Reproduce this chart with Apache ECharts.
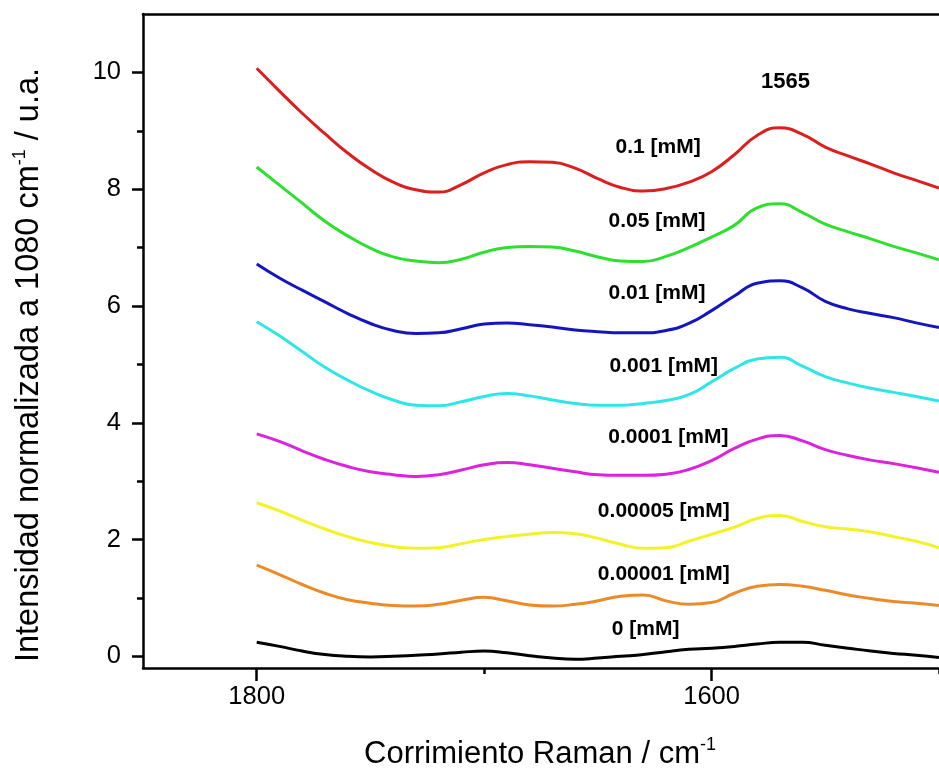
<!DOCTYPE html>
<html>
<head>
<meta charset="utf-8">
<script src="https://cdn.jsdelivr.net/npm/echarts@6/dist/echarts.min.js"></script>
<style>
html,body{margin:0;padding:0;background:#fff;}
#chart{width:939px;height:768px;}
</style>
</head>
<body>
<div id="chart"></div>
<script>
const wavenumbers = [1800,1790,1780,1770,1760,1750,1740,1730,1720,1710,1700,1690,1680,1670,1660,1650,1640,1630,1620,1610,1600,1590,1580,1570,1560,1550,1540,1530,1520,1510,1500];

const c0_1 = [10.07,9.68,9.30,8.95,8.62,8.34,8.12,7.99,7.95,8.08,8.28,8.42,8.47,8.46,8.36,8.18,8.03,7.97,8.01,8.12,8.30,8.59,8.92,9.05,8.94,8.72,8.57,8.43,8.28,8.15,8.02];
const c0_05 = [8.38,8.07,7.76,7.45,7.20,6.99,6.84,6.77,6.74,6.80,6.92,7.00,7.02,7.01,6.94,6.84,6.77,6.76,6.85,7.00,7.18,7.38,7.68,7.75,7.60,7.40,7.27,7.15,7.02,6.91,6.79];
const c0_01 = [6.72,6.48,6.27,6.07,5.87,5.70,5.58,5.53,5.54,5.61,5.69,5.71,5.68,5.64,5.59,5.56,5.54,5.54,5.58,5.70,5.92,6.17,6.39,6.43,6.31,6.08,5.95,5.87,5.80,5.71,5.63];
const c0_001 = [5.73,5.49,5.22,4.95,4.73,4.54,4.39,4.30,4.29,4.36,4.45,4.50,4.46,4.39,4.33,4.30,4.30,4.33,4.38,4.48,4.70,4.93,5.09,5.12,4.97,4.79,4.68,4.59,4.52,4.45,4.37];
const c0_0001 = [3.81,3.68,3.52,3.37,3.25,3.16,3.11,3.08,3.11,3.19,3.28,3.32,3.28,3.22,3.16,3.11,3.10,3.10,3.12,3.20,3.35,3.56,3.72,3.78,3.69,3.54,3.44,3.36,3.30,3.23,3.15];
const c0_00005 = [2.63,2.49,2.33,2.18,2.05,1.95,1.88,1.85,1.86,1.93,2.00,2.05,2.09,2.12,2.10,2.02,1.92,1.85,1.86,1.97,2.09,2.21,2.36,2.41,2.31,2.22,2.18,2.13,2.05,1.97,1.86];
const c0_00001 = [1.56,1.40,1.23,1.08,0.97,0.91,0.87,0.86,0.89,0.96,1.01,0.95,0.88,0.86,0.89,0.95,1.03,1.05,0.95,0.89,0.92,1.08,1.20,1.23,1.20,1.13,1.05,0.99,0.94,0.91,0.87];
const c0 = [0.24,0.17,0.09,0.03,0.00,-0.01,0.00,0.02,0.04,0.07,0.09,0.06,0.01,-0.03,-0.05,-0.03,0.00,0.03,0.08,0.12,0.14,0.17,0.21,0.24,0.24,0.19,0.14,0.09,0.05,0.02,-0.02];

const seriesNames = ['0.1 [mM]','0.05 [mM]','0.01 [mM]','0.001 [mM]','0.0001 [mM]','0.00005 [mM]','0.00001 [mM]','0 [mM]'];
const seriesValues = [c0_1, c0_05, c0_01, c0_001, c0_0001, c0_00005, c0_00001, c0];
const seriesColors = ['#dc1e1e','#2ee02e','#1515c0','#2ee6e6','#dc22dc','#f2f226','#ec8a28','#000000'];

// text annotations (data coordinates)
const annotText = ['1565','0.1 [mM]','0.05 [mM]','0.01 [mM]','0.001 [mM]','0.0001 [mM]','0.00005 [mM]','0.00001 [mM]','0 [mM]'];
const annotX = [1567.5,1623.5,1624,1624,1621,1619,1621,1621,1629];
const annotY = [9.83,8.72,7.46,6.21,4.96,3.75,2.48,1.40,0.46];
const annotStyle = ['big','t','t','t','t','t','t','t','t'];

const yMajorTicks = [0,2,4,6,8,10];
const yMinorTicks = [1,3,5,7,9];
const xMajorTicks = [1800,1600];
const xMinorTicks = [1700,1500];

const FONT = "'Liberation Sans', Arial, sans-serif";
const chart = echarts.init(document.getElementById('chart'), null, {renderer:'canvas'});

const lineSeries = seriesValues.map((vals, i) => ({
  type:'line',
  name: seriesNames[i],
  data: wavenumbers.map((w, j) => [w, vals[j]]),
  smooth: 0.5,
  showSymbol:false,
  symbol:'none',
  lineStyle:{color:seriesColors[i], width:3},
  itemStyle:{color:seriesColors[i]},
  xAxisIndex:0, yAxisIndex:0,
  silent:true,
  z:2
}));

const labelSeries = {
  type:'scatter',
  data: annotText.map((t, i) => ({value:[annotX[i], annotY[i]], name:t, styleKey:annotStyle[i]})),
  symbolSize:0,
  itemStyle:{color:'#000', opacity:1},
  label:{
    show:true, position:'inside',
    formatter:p => '{' + annotStyle[p.dataIndex] + '|' + p.name + '}',
    color:'#000', fontWeight:'bold', fontFamily:FONT, textBorderWidth:0, opacity:1,
    rich:{
      t:{color:'#000', fontWeight:'bold', fontSize:21, fontFamily:FONT, textBorderWidth:0},
      big:{color:'#000', fontWeight:'bold', fontSize:22, fontFamily:FONT, textBorderWidth:0}
    }
  },
  xAxisIndex:0, yAxisIndex:0,
  silent:true,
  z:5
};

const axisLineStyle = {color:'#000', width:2.5};
const plain = v => String(v);

chart.setOption({
  animation:false,
  backgroundColor:'#fff',
  grid:{left:143, width:804, top:14, bottom:100, containLabel:false},
  xAxis:[
    {type:'value', min:1500, max:1850, inverse:true, position:'bottom',
     axisLine:{show:true, onZero:false, lineStyle:axisLineStyle},
     axisTick:{show:true, inside:false, length:13, lineStyle:axisLineStyle, customValues:xMajorTicks},
     axisLabel:{show:true, customValues:xMajorTicks, formatter:plain, fontSize:25.5, color:'#000', fontFamily:FONT, margin:16},
     splitLine:{show:false}},
    {type:'value', min:1500, max:1850, inverse:true, position:'bottom',
     axisLine:{show:false, onZero:false},
     axisTick:{show:true, inside:false, length:6, lineStyle:axisLineStyle, customValues:xMinorTicks},
     axisLabel:{show:false},
     splitLine:{show:false}},
    {type:'value', min:1500, max:1850, inverse:true, position:'top',
     axisLine:{show:true, onZero:false, lineStyle:axisLineStyle},
     axisTick:{show:false}, axisLabel:{show:false}, splitLine:{show:false}}
  ],
  yAxis:[
    {type:'value', min:-0.2, max:11, position:'left',
     axisLine:{show:true, onZero:false, lineStyle:axisLineStyle},
     axisTick:{show:true, inside:false, length:11, lineStyle:axisLineStyle, customValues:yMajorTicks},
     axisLabel:{show:true, customValues:yMajorTicks, formatter:plain, fontSize:25.5, color:'#000', fontFamily:FONT, margin:22},
     splitLine:{show:false}},
    {type:'value', min:-0.2, max:11, position:'left',
     axisLine:{show:false, onZero:false},
     axisTick:{show:true, inside:false, length:6, lineStyle:axisLineStyle, customValues:yMinorTicks},
     axisLabel:{show:false}, splitLine:{show:false}}
  ],
  series: lineSeries.concat([labelSeries]),
  graphic:[
    {type:'text', x:29, y:365, rotation:Math.PI/2, silent:true,
     style:{
       text:'{a|Intensidad normalizada a 1080 cm}{s|-1}{a| / u.a.}',
       align:'center', verticalAlign:'middle',
       rich:{
         a:{fontSize:32.5, fontFamily:FONT, fill:'#000', color:'#000', lineHeight:36},
         s:{fontSize:18, fontFamily:FONT, fill:'#000', color:'#000', verticalAlign:'top', lineHeight:36}
       }
     }},
    {type:'text', x:540, y:754, silent:true,
     style:{
       text:'{a|Corrimiento Raman / cm}{s|-1}',
       align:'center', verticalAlign:'middle',
       rich:{
         a:{fontSize:31, fontFamily:FONT, fill:'#000', color:'#000', lineHeight:36},
         s:{fontSize:18, fontFamily:FONT, fill:'#000', color:'#000', verticalAlign:'top', lineHeight:36}
       }
     }}
  ]
});
</script>
</body>
</html>
